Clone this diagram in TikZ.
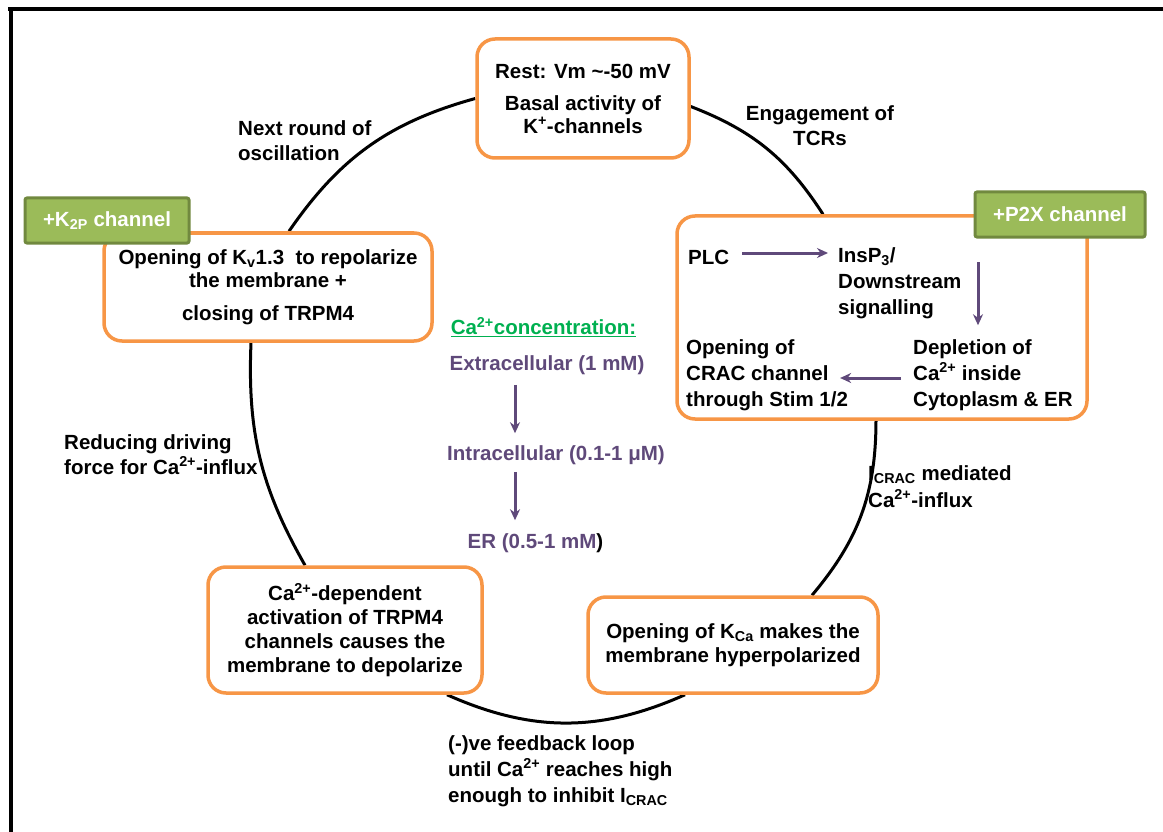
\documentclass[tikz,border=0pt]{standalone}
\usepackage{fontspec}
\setmainfont{Liberation Sans}
\usetikzlibrary{arrows.meta,calc,backgrounds}
\definecolor{boxorange}{HTML}{F79646}
\definecolor{chgreen}{HTML}{9BBB59}
\definecolor{chgreenedge}{HTML}{71893F}
\definecolor{capurple}{HTML}{5F497A}
\definecolor{headgreen}{HTML}{00B050}
\begin{document}
\begin{tikzpicture}[x=1pt,y=1pt,
  every node/.style={font=\fontsize{20.5}{25}\selectfont\bfseries},
  stagebox/.style={draw=boxorange, line width=3.5pt, fill=white, rounded corners=18pt, align=center, inner sep=0pt},
  chanbox/.style={draw=chgreenedge, line width=3pt, fill=chgreen, rounded corners=2pt, text=white, inner sep=0pt},
  plain/.style={inner sep=0pt},
  cyc/.style={line width=3pt, draw=black},
  parrow/.style={draw=capurple, line width=3pt, -{Stealth[length=11pt,width=10pt]}},
]
\useasboundingbox (0,0) rectangle (1163,-832);
% frame
\draw[line width=4pt] (8,-9.5) -- (1163,-9.5);
\draw[line width=4pt] (10.5,-7.5) -- (10.5,-832);

% stage boxes
\node[stagebox, minimum width=212pt, minimum height=119pt, font=\fontsize{20.5}{23}\selectfont\bfseries] (rest) at (583,-98.5)
  {Rest: Vm \textasciitilde-50 mV\\[9pt]Basal activity of\\K\textsuperscript{+}-channels};
\node[stagebox, minimum width=328pt, minimum height=108pt, font=\fontsize{20.5}{23}\selectfont\bfseries] (kv) at (268,-287)
  {Opening of K\textsubscript{v}1.3~ to repolarize\\the membrane +\\[10pt]closing of TRPM4};
\node[chanbox, minimum width=164pt, minimum height=45pt] (k2p) at (107,-220.5) {+K\textsubscript{2P} channel};

\node[stagebox, minimum width=410pt, minimum height=203pt] (p2x) at (882,-317.5) {};
\node[chanbox, minimum width=170pt, minimum height=45pt] (p2xch) at (1060,-214.5) {+P2X channel};

\node[stagebox, minimum width=274pt, minimum height=126pt, font=\fontsize{20.5}{24}\selectfont\bfseries] (ca) at (345,-630)
  {Ca\textsuperscript{2+}-dependent\\activation of TRPM4\\channels causes the\\membrane to depolarize};
\node[stagebox, minimum width=290pt, minimum height=96pt, font=\fontsize{20.5}{24}\selectfont\bfseries] (kca) at (733,-645)
  {Opening of K\textsubscript{Ca} makes the\\membrane hyperpolarized};

% inside P2X box
\node[plain, anchor=west] (plc) at (688,-257) {PLC};
\node[plain, anchor=west, align=left, font=\fontsize{20.5}{26}\selectfont\bfseries] (insp) at (838,-283) {InsP\textsubscript{3}/\\Downstream\\signalling};
\node[plain, anchor=west, align=left, font=\fontsize{20.5}{26}\selectfont\bfseries] (depl) at (913,-375) {Depletion of\\Ca\textsuperscript{2+} inside\\Cytoplasm \& ER};
\node[plain, anchor=west, align=left, font=\fontsize{20.5}{26}\selectfont\bfseries] (open) at (686,-375) {Opening of\\CRAC channel\\through Stim 1/2};
\coordinate (vtop) at (978,-262);
\draw[parrow, shorten >=10pt] ([xshift=13pt,yshift=4pt]plc.east) -- ([yshift=4pt]plc.east -| insp.west);
\draw[parrow] (vtop) -- ($(vtop |- depl.north)+(0,14)$);
\draw[parrow] ([xshift=-12pt,yshift=-3pt]depl.west) -- ($(open.east |- depl.west)+(-8,-3)$);

% central concentration column
\node[plain, text=headgreen] (conc) at (543.5,-327) {\underline{Ca\textsuperscript{2+}concentration:}};
\node[plain, text=capurple] (extra) at (547,-365) {Extracellular (1 mM)};
\node[plain, text=capurple] (intra) at (556,-455) {Intracellular (0.1-1 μM)};
\node[plain, text=capurple] (er) at (535.5,-543) {ER (0.5-1 mM\textcolor{black}{)}};
\coordinate (cx) at (515,0);
\draw[parrow] ($(extra.south -| cx)+(0,-10)$) -- ($(intra.north -| cx)+(0,12)$);
\draw[parrow] ($(intra.south -| cx)+(0,-7)$) -- ($(er.north -| cx)+(0,13)$);

% labels
\node[plain, anchor=west, align=left] (lnext) at (238,-140.5) {Next round of\\oscillation};
\node[plain, align=center] (leng) at (820,-125.5) {Engagement of\\TCRs};
\node[plain, anchor=west, align=left] (lred) at (64,-454.5) {Reducing driving\\force for Ca\textsuperscript{2+}-influx};
\node[plain, anchor=west, align=left, font=\fontsize{20.5}{27}\selectfont\bfseries] (licrac) at (868,-486.5) {I\textsubscript{CRAC} mediated\\Ca\textsuperscript{2+}-influx};
\node[plain, anchor=west, align=left, font=\fontsize{20.5}{26}\selectfont\bfseries] (lfeed) at (448,-771) {(-)ve feedback loop\\until Ca\textsuperscript{2+} reaches high\\enough to inhibit I\textsubscript{CRAC}};

% cycle arcs
\begin{scope}[on background layer]
\draw[cyc] (rest.west) to[bend right=20] ([xshift=21pt]kv.north);
\draw[cyc] ([xshift=-17pt]kv.south) to[bend right=16] ([xshift=-40pt]ca.north);
\draw[cyc] ([xshift=102pt]ca.south) to[bend right=24] ([xshift=-48pt]kca.south);
\draw[cyc] ([xshift=79pt]kca.north) to[bend right=20] ([xshift=-6pt]p2x.south);
\draw[cyc] ([xshift=-59pt]p2x.north) to[bend right=18] ([yshift=-8pt]rest.east);
\end{scope}
\end{tikzpicture}
\end{document}
